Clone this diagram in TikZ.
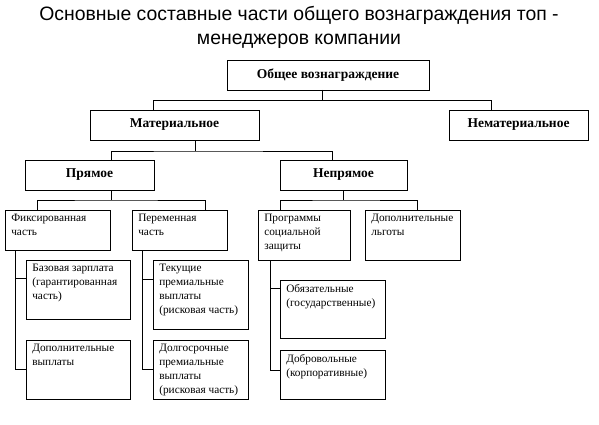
\documentclass[tikz,border=0pt]{standalone}
\usepackage{fontspec}
\setmainfont{Liberation Serif}
\newfontfamily\titlefont{Liberation Sans}

\begin{document}
\begin{tikzpicture}[x=1pt,y=-1pt,line width=0.6pt,
  box/.style 2 args={draw,outer sep=0,inner sep=0,anchor=north west,minimum width=#1,minimum height=#2},
  head/.style 2 args={box={#1}{#2},font=\bfseries\fontsize{13.5}{15}\selectfont},
  txt/.style={anchor=north west,align=left,inner xsep=6pt,inner ysep=4pt,font=\fontsize{11.3}{14}\selectfont}]
\useasboundingbox (0,0) rectangle (599,425);

\node [font=\titlefont\fontsize{19.4}{24}\selectfont,align=center,anchor=north] (title) at (299,3)
  {Основные составные части общего вознаграждения топ -\\менеджеров компании};

% upper levels
\node [head={202}{30}] (total) at (227,60) {Общее вознаграждение};
\node [head={169}{30}] (mat) at (90,110) {Материальное};
\node [head={139}{30}] (nonmat) at (449,110) {Нематериальное};
\node [head={129}{30}] (direct) at (25,160) {Прямое};
\node [head={127}{30}] (indirect) at (280,160) {Непрямое};

% lower boxes
\node [box={105}{40}, label={[txt]north west:Фиксированная\\часть}] (fixed) at (5,210) {};
\node [box={95}{40}, label={[txt]north west:Переменная\\часть}] (variable) at (132,210) {};
\node [box={92}{50}, label={[txt]north west:Программы\\социальной\\защиты}] (social) at (258,210) {};
\node [box={95}{50}, label={[txt]north west:Дополнительные\\льготы}] (benefits) at (365,210) {};
\node [box={104}{59}, label={[txt]north west:Базовая зарплата\\(гарантированная\\часть)}] (base) at (26,260) {};
\node [box={104}{59}, label={[txt]north west:Дополнительные\\выплаты}] (extra) at (26,340) {};
\node [box={95}{69}, label={[txt]north west:Текущие\\премиальные\\выплаты\\(рисковая часть)}] (current) at (153,260) {};
\node [box={95}{59}, label={[txt]north west:Долгосрочные\\премиальные\\выплаты\\(рисковая часть)}] (longterm) at (153,340) {};
\node [box={105}{58}, label={[txt]north west:Обязательные\\(государственные)}] (mandatory) at (280,280) {};
\node [box={105}{49}, label={[txt]north west:Добровольные\\(корпоративные)}] (voluntary) at (280,350) {};

% connectors
\draw ([xshift=-6]total.south) -- ++(0,10.5) coordinate (j1);
\draw ([xshift=-21.5]mat.north) |- (j1) -| ([xshift=-27.5]nonmat.north);
\draw ([xshift=20.5]mat.south) -- ++(0,11) coordinate (j2);
\draw ([xshift=21.5]direct.north) |- (j2) -| ([xshift=-11.5]indirect.north);
\draw ([xshift=21.5]direct.south) -- ++(0,10) coordinate (j3);
\draw ([xshift=-20.5]fixed.north) |- (j3) -| ([xshift=25.5]variable.north);
\draw (indirect.south) -- ++(0,10) coordinate (j4);
\draw ([xshift=-24]social.north) |- (j4) -| ([xshift=4.5]benefits.north);

\draw ([xshift=-42.5]fixed.south) |- ([yshift=-18]base.north west);
\draw ([xshift=-42.5]fixed.south) |- (extra.west);
\draw ([xshift=-37.5]variable.south) |- ([yshift=-19]current.north west);
\draw ([xshift=-37.5]variable.south) |- (longterm.west);
\draw ([xshift=-34]social.south) |- ([yshift=-8]mandatory.north west);
\draw ([xshift=-34]social.south) |- ([yshift=-20]voluntary.north west);
\end{tikzpicture}
\end{document}
